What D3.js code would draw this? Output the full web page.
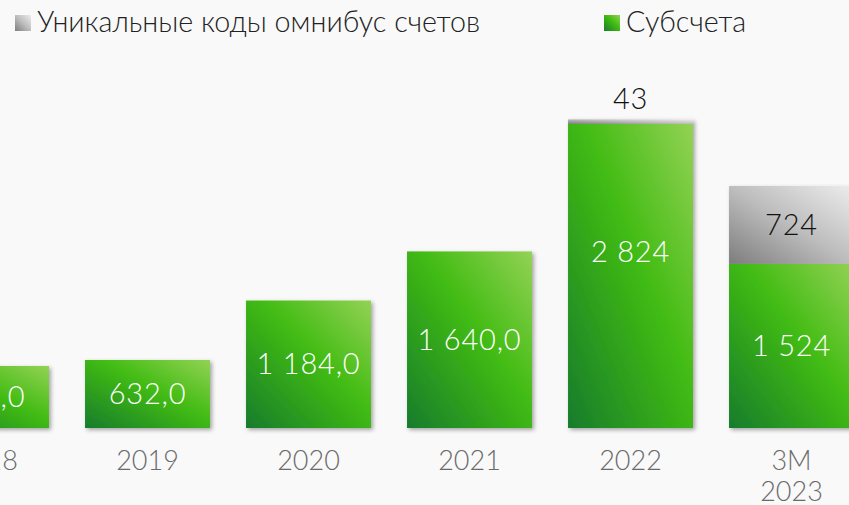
<!DOCTYPE html>
<html>
<head>
<meta charset="utf-8">
<script src="https://cdn.jsdelivr.net/npm/d3@7"></script>
<style>
  html, body { margin: 0; padding: 0; background: #f9f9f9; }
  svg { display: block; font-family: Lato, "Open Sans", sans-serif; font-weight: 300; }
</style>
</head>
<body>
<div id="chart"></div>
<script>
const categories = ['2018', '2019', '2020', '2021', '2022', '3M\n2023']
const subaccounts = [576, 632, 1184, 1640, 2824, 1524]
const omnibusCodes = [0, 0, 0, 0, 43, 724]
const subLabels = ['576,0', '632,0', '1 184,0', '1 640,0', '2 824', '1 524']
const omnibusLabels = ['', '', '', '', '43', '724']
const legendNames = ['Уникальные коды омнибус счетов', 'Субсчета']

const width = 849
const height = 505
const baseline = 428

const svg = d3.select('#chart').append('svg')
  .attr('width', width)
  .attr('height', height)

svg.append('rect').attr('width', width).attr('height', height).attr('fill', '#f9f9f9')

const defs = svg.append('defs')
const green = defs.append('linearGradient')
  .attr('id', 'green').attr('x1', 0).attr('y1', 1).attr('x2', 1).attr('y2', 0)
green.append('stop').attr('offset', '0').attr('stop-color', '#177c2c')
green.append('stop').attr('offset', '0.55').attr('stop-color', '#40bb12')
green.append('stop').attr('offset', '1').attr('stop-color', '#93d254')
const gray = defs.append('linearGradient')
  .attr('id', 'gray').attr('x1', 0).attr('y1', 1).attr('x2', 1).attr('y2', 0)
gray.append('stop').attr('offset', '0').attr('stop-color', '#7d7d7d')
gray.append('stop').attr('offset', '0.5').attr('stop-color', '#bdbdbd')
gray.append('stop').attr('offset', '1').attr('stop-color', '#ededed')
const shadow = defs.append('filter').attr('id', 'shadow')
  .attr('x', '-10%').attr('y', '-10%').attr('width', '130%').attr('height', '130%')
shadow.append('feDropShadow').attr('dx', 2).attr('dy', 2).attr('stdDeviation', 2)
  .attr('flood-color', '#000').attr('flood-opacity', 0.35)

const xScale = d3.scaleBand()
  .domain(categories)
  .range([-94, 872])
  .paddingInner(0.224)
  .paddingOuter(0.112)

const yScale = d3.scaleLinear()
  .domain([0, 3000])
  .range([baseline, 105])

const data = categories.map(function(c, i) {
  return { cat: c, sub: subaccounts[i], omni: omnibusCodes[i], subLabel: subLabels[i], omniLabel: omnibusLabels[i] }
})

// bars with shadow
const bars = svg.append('g')
bars.selectAll('g')
  .data(data)
  .enter()
  .append('g')
  .attr('filter', 'url(#shadow)')
  .each(function(d) {
    const g = d3.select(this)
    g.append('rect')
      .attr('x', xScale(d.cat))
      .attr('y', yScale(d.sub))
      .attr('width', xScale.bandwidth())
      .attr('height', baseline - yScale(d.sub))
      .attr('fill', 'url(#green)')
    if (d.omni > 0) {
      g.append('rect')
        .attr('x', xScale(d.cat))
        .attr('y', yScale(d.sub + d.omni))
        .attr('width', xScale.bandwidth())
        .attr('height', yScale(d.sub) - yScale(d.sub + d.omni))
        .attr('fill', 'url(#gray)')
    }
  })

// value labels, tall bars get the label a bit above the middle
svg.append('g')
  .selectAll('text')
  .data(data)
  .enter()
  .append('text')
  .attr('x', function(d) { return xScale(d.cat) + xScale.bandwidth() / 2 })
  .attr('y', function(d) {
    const h = baseline - yScale(d.sub)
    return h > 250 ? yScale(d.sub) + h * 0.42 : yScale(d.sub) + h / 2
  })
  .attr('dy', '0.35em')
  .attr('text-anchor', 'middle')
  .attr('fill', '#ffffff')
  .style('font-size', '29px')
  .style('letter-spacing', '0.8px')
  .text(function(d) { return d.subLabel })

svg.append('g')
  .selectAll('text')
  .data(data.filter(function(d) { return d.omni > 0 }))
  .enter()
  .append('text')
  .attr('x', function(d) { return xScale(d.cat) + xScale.bandwidth() / 2 })
  .attr('y', function(d) {
    const top = yScale(d.sub + d.omni)
    const bot = yScale(d.sub)
    return (bot - top) > 40 ? (top + bot) / 2 : top - 20
  })
  .attr('dy', '0.35em')
  .attr('text-anchor', 'middle')
  .attr('fill', '#111')
  .style('font-size', '29px')
  .style('letter-spacing', '0.8px')
  .text(function(d) { return d.omniLabel })

// x axis
const xAxis = svg.append('g')
  .attr('transform', 'translate(0,' + baseline + ')')
  .call(d3.axisBottom(xScale).tickSize(0).tickPadding(0))
xAxis.select('.domain').remove()
xAxis.selectAll('text')
  .attr('fill', '#6b6b6b')
  .style('font-size', '27px')
  .style('font-family', 'Lato, sans-serif')
  .style('font-weight', 300)
  .attr('y', 0)
  .attr('dy', 0)
  .text(null)
  .each(function(d) {
    const lines = d.split('\n')
    const t = d3.select(this)
    lines.forEach(function(line, i) {
      t.append('tspan')
        .attr('x', 0)
        .attr('y', 42 + i * 31)
        .text(line)
    })
  })

// legend
const legend = svg.append('g')
const legendX = [15, 604]
const legendFill = ['url(#gray)', 'url(#green)']
legendNames.forEach(function(name, i) {
  legend.append('rect')
    .attr('x', legendX[i]).attr('y', 15)
    .attr('width', 16).attr('height', 16)
    .attr('fill', legendFill[i])
  legend.append('text')
    .attr('x', legendX[i] + 22).attr('y', 32)
    .attr('fill', '#222')
    .style('font-size', '28.7px')
    .text(name)
})
</script>
</body>
</html>
